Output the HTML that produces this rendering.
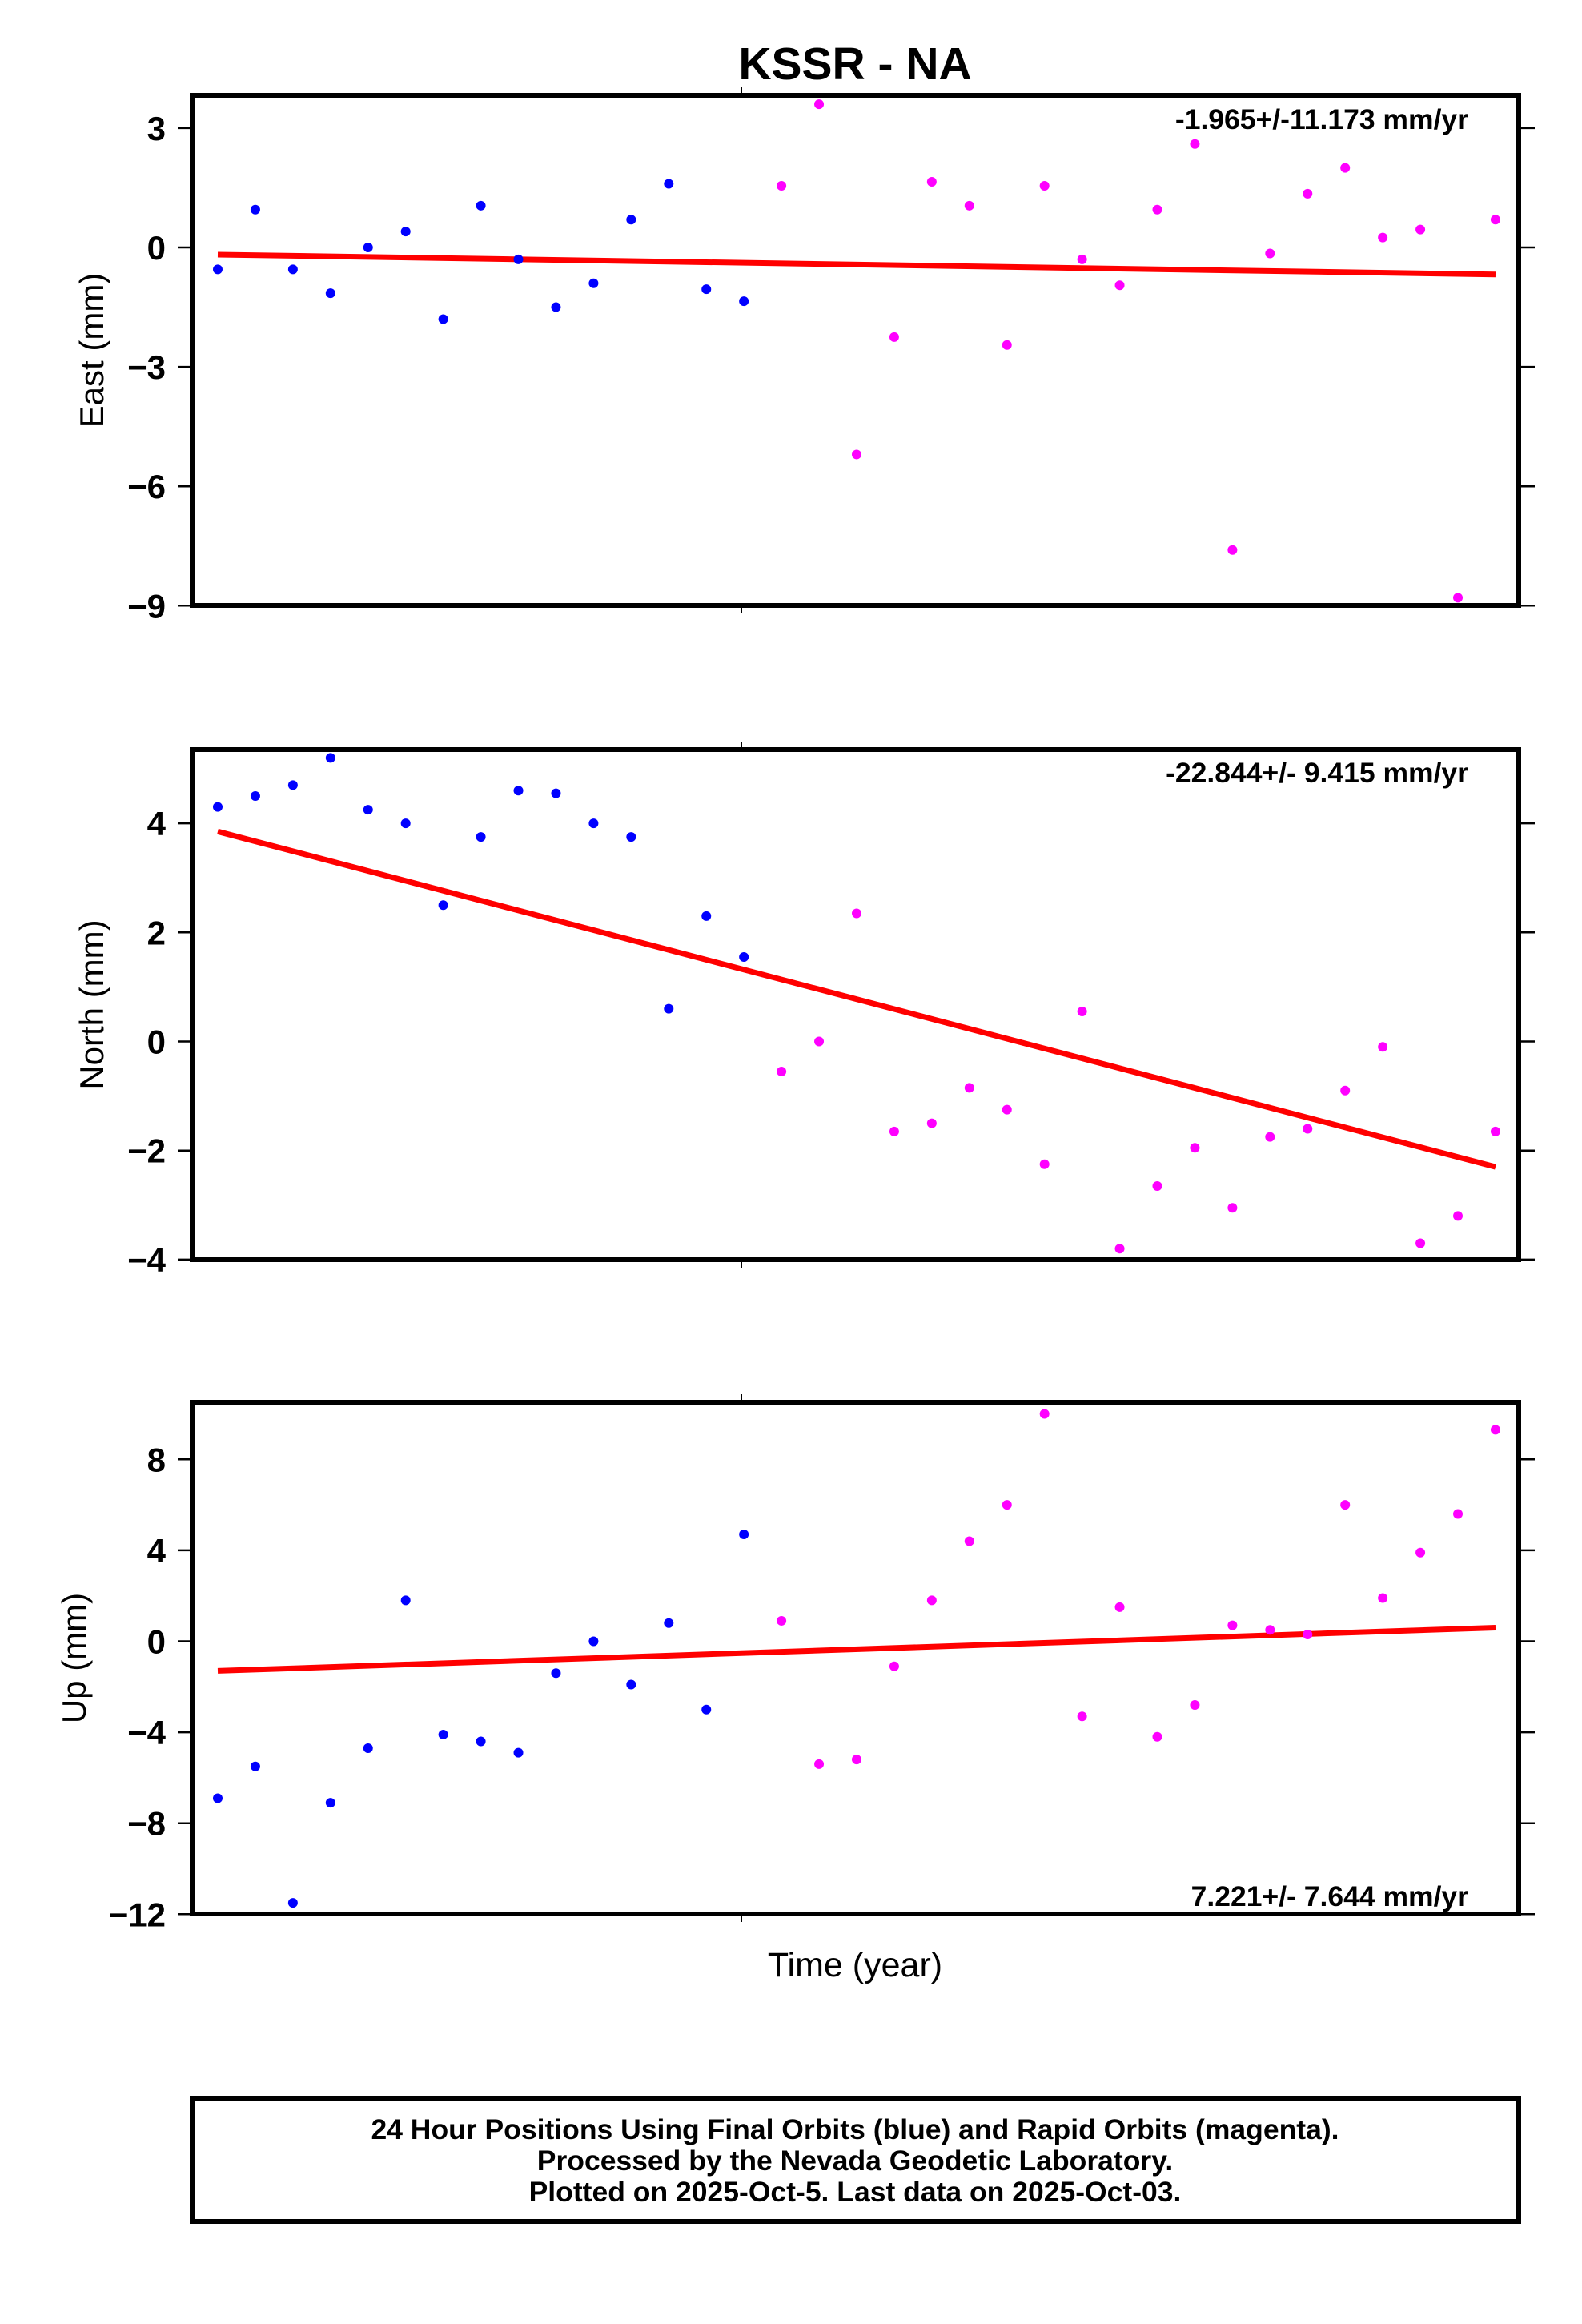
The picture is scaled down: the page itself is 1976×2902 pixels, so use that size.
<!DOCTYPE html>
<html><head><meta charset="utf-8"><style>
html,body{margin:0;padding:0;background:#fff}
svg{display:block}
text{font-family:"Liberation Sans",Arial,sans-serif}
</style></head><body>
<svg id="s" width="1976" height="2902" xmlns="http://www.w3.org/2000/svg">
<rect width="1976" height="2902" fill="#fff"/>
<text x="1068" y="99" font-size="57" font-weight="bold" text-anchor="middle">KSSR - NA</text>
<g id="g"></g>
<text x="1068" y="2468" font-size="43" text-anchor="middle">Time (year)</text>
<rect x="240" y="2620" width="1657" height="154" fill="none" stroke="#000" stroke-width="6"/>
<text x="1068" y="2671" font-size="35.5" font-weight="bold" text-anchor="middle">24 Hour Positions Using Final Orbits (blue) and Rapid Orbits (magenta).</text>
<text x="1068" y="2710" font-size="35.5" font-weight="bold" text-anchor="middle">Processed by the Nevada Geodetic Laboratory.</text>
<text x="1068" y="2749" font-size="35.5" font-weight="bold" text-anchor="middle">Plotted on 2025-Oct-5. Last data on 2025-Oct-03.</text>
</svg>
<script>
var NS="http://www.w3.org/2000/svg",g=document.getElementById("g");
function el(t,a,txt){var e=document.createElementNS(NS,t);for(var k in a)e.setAttribute(k,a[k]);if(txt!=null)e.textContent=txt;g.appendChild(e);return e;}
var L=240,R=1897;
var panels=[
{top:119,bot:756,v0:0,p0:309,u:49.7,ticks:[3,0,-3,-6,-9],lab:"East (mm)",lx:115,rate:"-1.965+/-11.173 mm/yr",ry:161,
 d:[-0.55,0.95,-0.55,-1.15,0.0,0.4,-1.8,1.05,-0.3,-1.5,-0.9,0.7,1.6,-1.05,-1.35,1.55,3.6,-5.2,-2.25,1.65,1.05,-2.45,1.55,-0.3,-0.95,0.95,2.6,-7.6,-0.15,1.35,2.0,0.25,0.45,-8.8,0.7],t:[-0.18,-0.68]},
{top:936,bot:1573,v0:0,p0:1300.5,u:68.1,ticks:[4,2,0,-2,-4],lab:"North (mm)",lx:115,rate:"-22.844+/- 9.415 mm/yr",ry:977,
 d:[4.3,4.5,4.7,5.2,4.25,4.0,2.5,3.75,4.6,4.55,4.0,3.75,0.6,2.3,1.55,-0.55,0.0,2.35,-1.65,-1.5,-0.85,-1.25,-2.25,0.55,-3.8,-2.65,-1.95,-3.05,-1.75,-1.6,-0.9,-0.1,-3.7,-3.2,-1.65],t:[3.85,-2.3]},
{top:1751,bot:2390,v0:0,p0:2049.5,u:28.4,ticks:[8,4,0,-4,-8,-12],lab:"Up (mm)",lx:93,rate:"7.221+/- 7.644 mm/yr",ry:2380,
 d:[-6.9,-5.5,-11.5,-7.1,-4.7,1.8,-4.1,-4.4,-4.9,-1.4,0,-1.9,0.8,-3.0,4.7,0.9,-5.4,-5.2,-1.1,1.8,4.4,6.0,10.0,-3.3,1.5,-4.2,-2.8,0.7,0.5,0.3,6.0,1.9,3.9,5.6,9.3],t:[-1.3,0.6]}
];
panels.forEach(function(p){
 function Y(v){return p.p0-v*p.u;}
 el("rect",{x:L,y:p.top,width:R-L,height:p.bot-p.top,fill:"none",stroke:"#000","stroke-width":6});
 p.ticks.forEach(function(t){var y=Y(t);
  el("line",{x1:222,x2:L,y1:y,y2:y,stroke:"#000","stroke-width":2.5});
  el("line",{x1:R,x2:1917,y1:y,y2:y,stroke:"#000","stroke-width":2.5});
  el("text",{x:207,y:y+15,"font-size":42,"font-weight":"bold","text-anchor":"end"},String(t).replace("-","\u2212"));
 });
 el("line",{x1:926,x2:926,y1:p.top-10,y2:p.top,stroke:"#000","stroke-width":2});
 el("line",{x1:926,x2:926,y1:p.bot,y2:p.bot+10,stroke:"#000","stroke-width":2});
 var cy=(p.top+p.bot)/2;
 el("text",{x:p.lx,y:cy,"font-size":42,"text-anchor":"middle",transform:"rotate(-90 "+p.lx+" "+cy+")",dy:14},p.lab);
 el("line",{x1:272,x2:1868,y1:Y(p.t[0]),y2:Y(p.t[1]),stroke:"#f00","stroke-width":7});
 p.d.forEach(function(v,i){el("circle",{cx:272+i*46.94,cy:Y(v),r:6,fill:i<15?"#00f":"#f0f"});});
 el("text",{x:1834,y:p.ry,"font-size":35.5,"font-weight":"bold","text-anchor":"end"},p.rate);
});
</script>
</body></html>
